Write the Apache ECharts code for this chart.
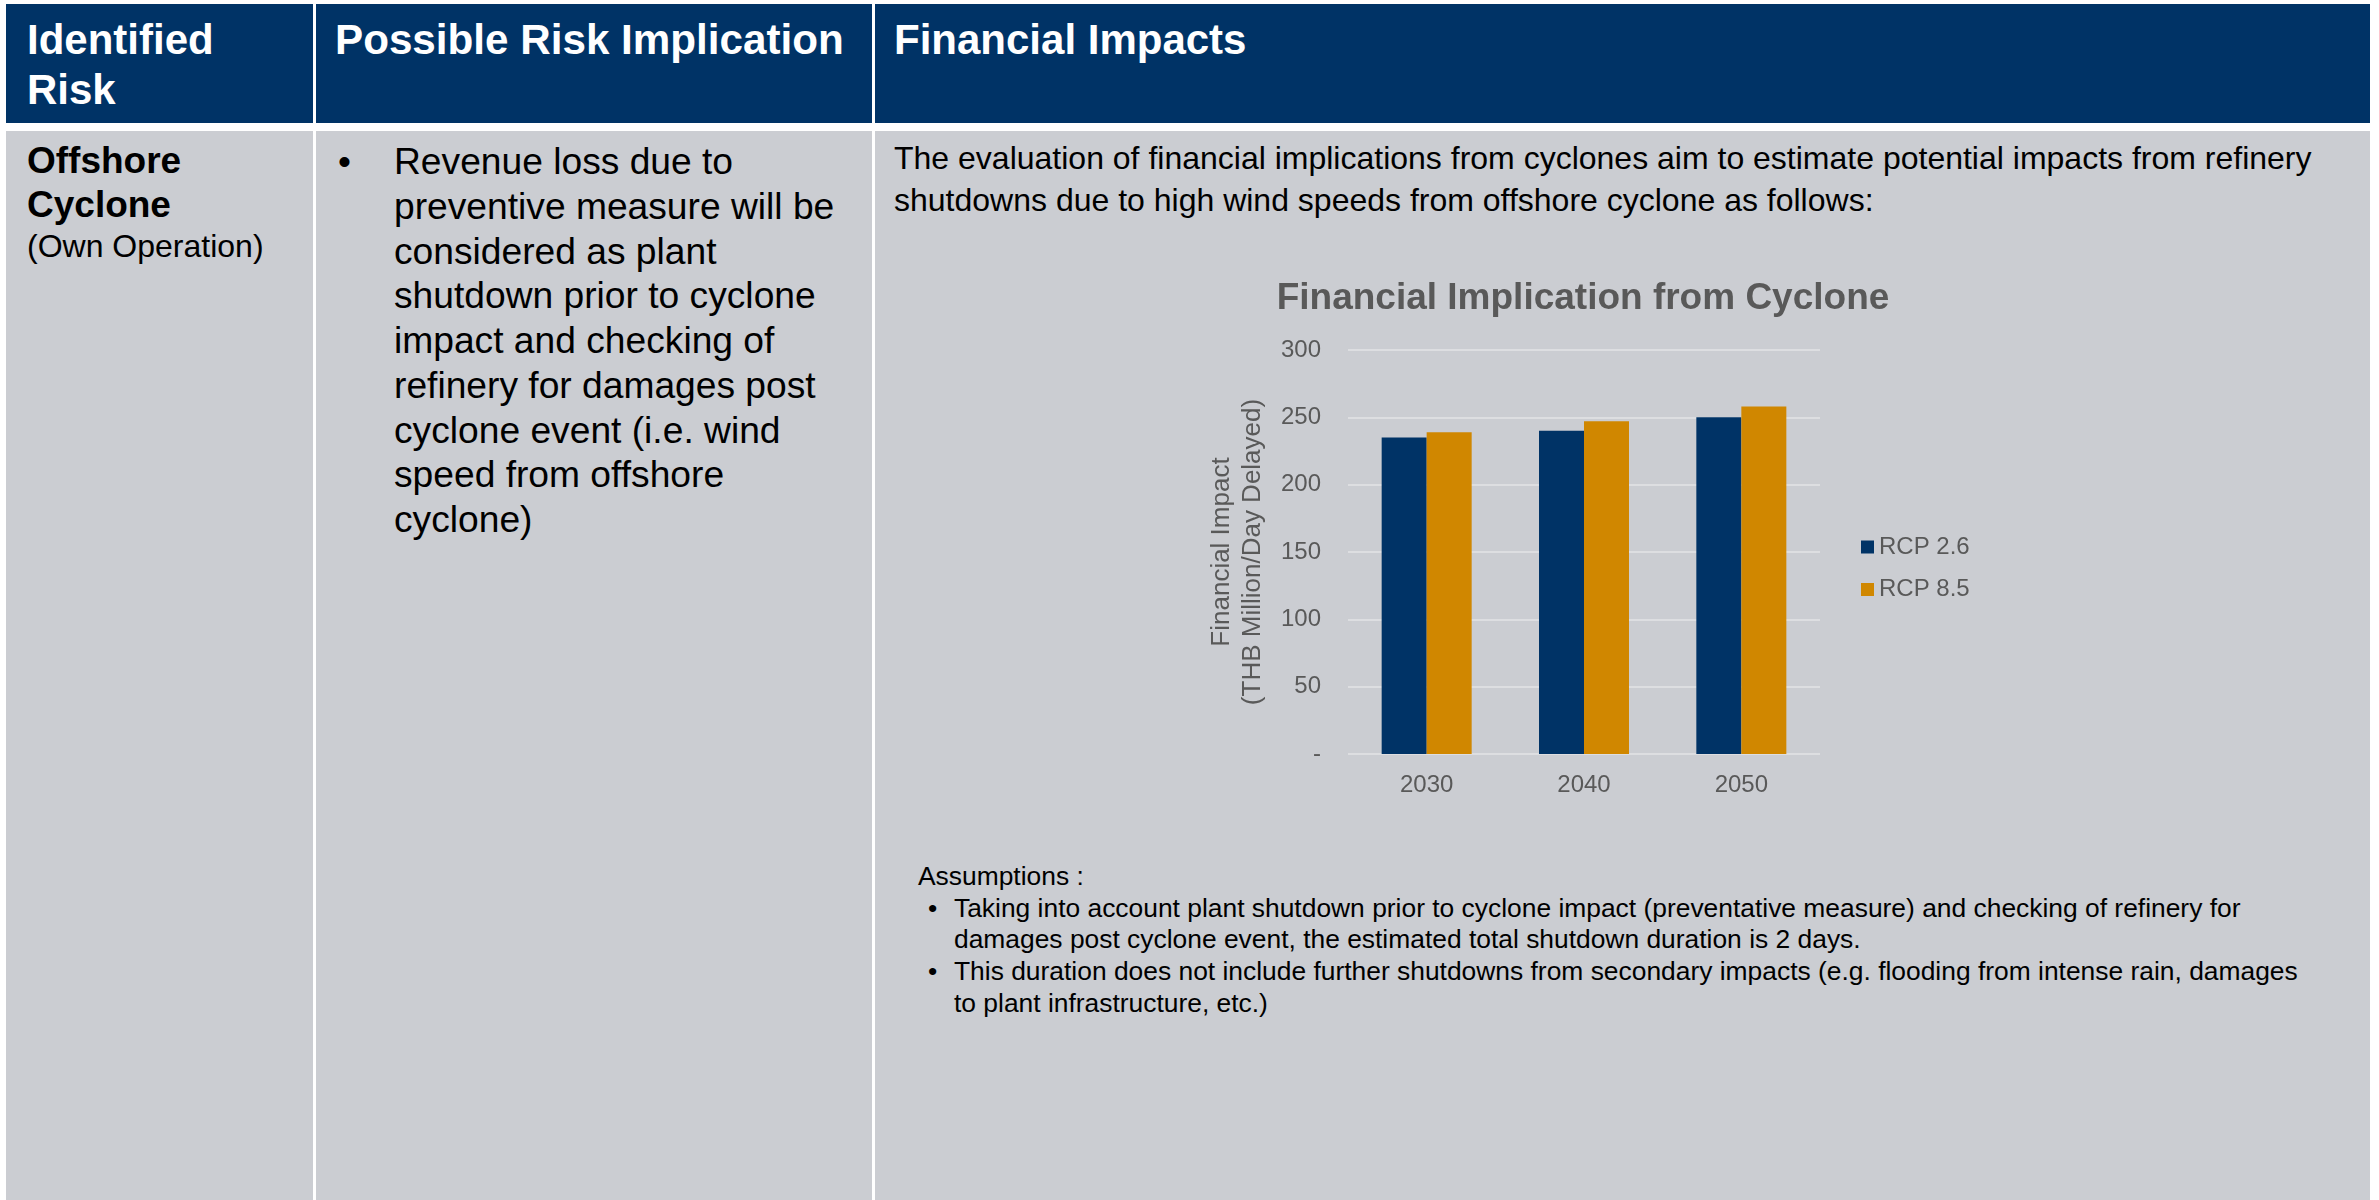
<!DOCTYPE html>
<html>
<head>
<meta charset="utf-8">
<script src="https://cdn.jsdelivr.net/npm/echarts@6/dist/echarts.min.js"></script>
<style>
  html, body { margin:0; padding:0; background:#ffffff; }
  body { width:2379px; height:1200px; overflow:hidden; position:relative;
         font-family:"Liberation Sans", Arial, Helvetica, sans-serif; }
  .cell { position:absolute; }
  .hd { background:#003366; top:4px; height:119px; }
  .bd { background:#CBCDD2; top:131px; height:1069px; }
  .txt { position:absolute; white-space:nowrap; }
  .htxt { color:#ffffff; font-weight:bold; font-size:42px; line-height:50px; top:15px; }
  #chart { position:absolute; left:0; top:0; width:2379px; height:1200px; z-index:2; }
</style>
</head>
<body>
<div class="cell hd" style="left:6px;width:307px;"></div>
<div class="cell hd" style="left:316px;width:556px;"></div>
<div class="cell hd" style="left:875px;width:1495px;"></div>
<div class="cell bd" style="left:6px;width:307px;"></div>
<div class="cell bd" style="left:316px;width:556px;"></div>
<div class="cell bd" style="left:875px;width:1495px;"></div>

<div class="txt htxt" style="left:27px;">Identified<br>Risk</div>
<div class="txt htxt" style="left:335px;font-size:42.2px;">Possible Risk Implication</div>
<div class="txt htxt" style="left:894px;">Financial Impacts</div>

<div class="txt" style="left:27px;top:139px;color:#000;">
  <div style="font-weight:bold;font-size:37px;line-height:44px;">Offshore<br>Cyclone</div>
  <div style="font-size:32px;line-height:38px;">(Own Operation)</div>
</div>

<div class="txt" style="left:338px;top:139px;font-size:37px;line-height:45px;color:#000;">•</div>
<div class="txt" style="left:394px;top:139px;font-size:37.2px;line-height:44.75px;color:#000;">
Revenue loss due to<br>preventive measure will be<br>considered as plant<br>shutdown prior to cyclone<br>impact and checking of<br>refinery for damages post<br>cyclone event (i.e. wind<br>speed from offshore<br>cyclone)
</div>

<div class="txt" style="left:894px;top:137px;font-size:32px;line-height:42px;color:#000;">
The evaluation of financial implications from cyclones aim to estimate potential impacts from refinery<br>shutdowns due to high wind speeds from offshore cyclone as follows:
</div>

<div class="txt" style="left:918px;top:861px;font-size:26.4px;line-height:31.7px;color:#000;">Assumptions :</div>
<div class="txt" style="left:928px;top:892.7px;font-size:26.4px;line-height:31.7px;color:#000;">•<br><br>•</div>
<div class="txt" style="left:954px;top:892.7px;font-size:26.4px;line-height:31.7px;color:#000;">
Taking into account plant shutdown prior to cyclone impact (preventative measure) and checking of refinery for<br>damages post cyclone event, the estimated total shutdown duration is 2 days.<br>This duration does not include further shutdowns from secondary impacts (e.g. flooding from intense rain, damages<br>to plant infrastructure, etc.)
</div>

<div id="chart"></div>

<script>
// ---- data ----
const chartTitle = 'Financial Implication from Cyclone';
const years = ['2030', '2040', '2050'];
const seriesNames = ['RCP 2.6', 'RCP 8.5'];
const rcp26 = [235, 240, 250];
const rcp85 = [239, 247, 258];
const yAxisName = 'Financial Impact\n(THB Million/Day Delayed)';
const yMin = 0, yMax = 300, yStep = 50;

const FONT = '"Liberation Sans", Arial, Helvetica, sans-serif';
const GREY = '#595959';

const chart = echarts.init(document.getElementById('chart'), null, { renderer: 'canvas' });
chart.setOption({
  backgroundColor: 'transparent',
  animation: false,
  color: ['#003366', '#D08700'],
  title: {
    text: chartTitle,
    left: 1583,
    top: 280,
    padding: 0,
    textAlign: 'center',
    textStyle: { fontFamily: FONT, fontSize: 37, fontWeight: 'bold', color: GREY }
  },
  legend: {
    orient: 'vertical',
    left: 1861,
    top: 535,
    itemWidth: 13,
    itemHeight: 13,
    itemGap: 18.5,
    icon: 'rect',
    padding: 0,
    textStyle: { fontFamily: FONT, fontSize: 24, color: GREY },
    data: seriesNames
  },
  grid: { left: 1348, top: 350, width: 472, height: 404, containLabel: false },
  xAxis: {
    type: 'category',
    data: years,
    axisLine: { show: false },
    axisTick: { show: false },
    axisLabel: { margin: 19, fontFamily: FONT, fontSize: 24, color: GREY }
  },
  yAxis: {
    type: 'value',
    min: yMin, max: yMax, interval: yStep,
    name: yAxisName,
    nameLocation: 'middle',
    nameGap: 80,
    nameTextStyle: { fontFamily: FONT, fontSize: 26, lineHeight: 31, color: GREY },
    axisLine: { show: false },
    axisTick: { show: false },
    splitLine: { lineStyle: { color: '#DDDEE1', width: 2 } },
    axisLabel: {
      margin: 27, fontFamily: FONT, fontSize: 24, color: GREY,
      formatter: v => (v === 0 ? '-' : String(v))
    }
  },
  series: [
    { name: seriesNames[0], type: 'bar', data: rcp26, barWidth: 45, barGap: '0%' },
    { name: seriesNames[1], type: 'bar', data: rcp85, barWidth: 45, barGap: '0%' }
  ]
});
</script>
</body>
</html>
